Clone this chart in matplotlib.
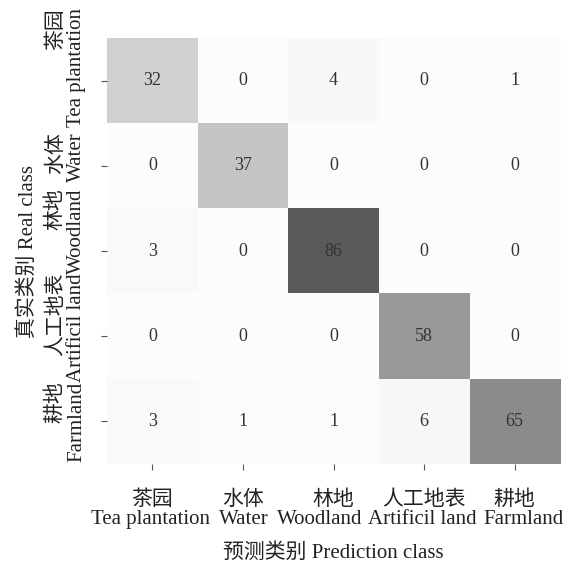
import numpy as np
import matplotlib
matplotlib.use('Agg')
import matplotlib.pyplot as plt
from matplotlib.transforms import ScaledTranslation

plt.rcParams['font.family'] = ['Liberation Serif', 'Noto Sans CJK SC']

classes_cn = ['茶园', '水体', '林地', '人工地表', '耕地']
classes_en = ['Tea plantation', 'Water', 'Woodland', 'Artificil land', 'Farmland']
# rows: real class, columns: predicted class
cm = [
    [32, 0, 4, 0, 1],
    [0, 37, 0, 0, 0],
    [3, 0, 86, 0, 0],
    [0, 0, 0, 58, 0],
    [3, 1, 1, 6, 65],
]

fig = plt.figure(figsize=(5.68, 5.65), dpi=100)
ax = fig.add_axes([0.1884, 0.1788, 0.7976, 0.7539])

data = np.array(cm)
ax.imshow(data, cmap='Greys', alpha=0.65, vmin=-3, vmax=86, aspect='auto',
          interpolation='nearest')

for i in range(data.shape[0]):
    for j in range(data.shape[1]):
        ax.text(j, i, str(data[i, j]), ha='center', va='center',
                fontsize=13, color='#333333')

ax.set_xticks(range(len(classes_cn)))
ax.set_yticks(range(len(classes_cn)))

# bottom: chinese as tick labels, english line underneath, nudged sideways
ax.set_xticklabels(classes_cn, fontsize=15, color='#222222')
x_nudge = [-1, 1, -10, -1, 6]  # points
for j, (en, dx) in enumerate(zip(classes_en, x_nudge)):
    ax.annotate(en, xy=(j, 0), xycoords=('data', 'axes fraction'),
                xytext=(dx, -40), textcoords='offset points',
                ha='center', va='center', fontsize=15, color='#222222')

ylabels = [cn + '\n' + en for cn, en in zip(classes_cn, classes_en)]
ax.set_yticklabels(ylabels, fontsize=15, linespacing=1.1, rotation=90,
                   va='center', ha='right', color='#222222')
ax.tick_params(axis='x', length=4, width=0.8, color='#555555', pad=15)
ax.tick_params(axis='y', length=4, width=0.8, color='#555555', pad=11)

# move the rotated row labels up so neighbours keep apart
y_shift = [0.13, 0.09, 0.20, 0.09, 0.0]
for lab, dy in zip(ax.get_yticklabels(), y_shift):
    lab.set_transform(lab.get_transform() + ScaledTranslation(0, dy, fig.dpi_scale_trans))

ax.set_xlabel('预测类别 Prediction class', fontsize=15, color='#222222', labelpad=24)
ax.set_ylabel('真实类别 Real class', fontsize=15, color='#222222', labelpad=6)

for s in ax.spines.values():
    s.set_visible(False)

fig.savefig('out.png', dpi=100)
